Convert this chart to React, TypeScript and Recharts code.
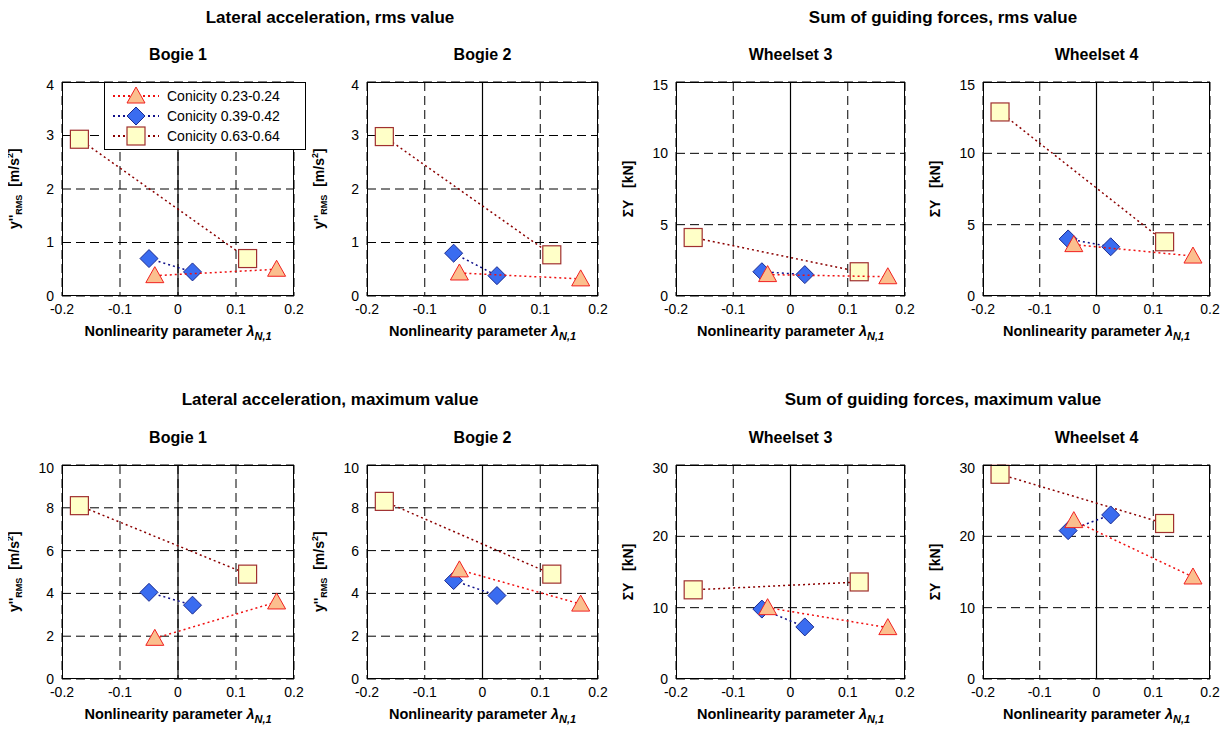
import React from 'react';
import { ScatterChart, Scatter, XAxis, YAxis, CartesianGrid, ReferenceLine } from 'recharts';

const X_TRI = [-0.04, 0.17];
const X_DIA = [-0.05, 0.025];
const X_SQ = [-0.17, 0.12];
const X_TICKS = [-0.2, -0.1, 0, 0.1, 0.2];

// values per panel: [triangle, diamond, square]
const ACC_RMS_B1 = [[0.38, 0.5], [0.7, 0.45], [2.93, 0.7]];
const ACC_RMS_B2 = [[0.43, 0.32], [0.8, 0.38], [2.98, 0.77]];
const FRC_RMS_W3 = [[1.5, 1.35], [1.7, 1.5], [4.1, 1.7]];
const FRC_RMS_W4 = [[3.6, 2.8], [4.0, 3.45], [12.9, 3.8]];
const ACC_MAX_B1 = [[1.9, 3.6], [4.05, 3.45], [8.1, 4.9]];
const ACC_MAX_B2 = [[5.1, 3.5], [4.6, 3.9], [8.3, 4.9]];
const FRC_MAX_W3 = [[10.0, 7.2], [9.8, 7.3], [12.5, 13.6]];
const FRC_MAX_W4 = [[22.2, 14.3], [20.8, 23.0], [28.7, 21.8]];

const FONT = 'Liberation Sans, Arial, sans-serif';

const Tri = (p: any) => <polygon points={`${p.cx},${p.cy - 9} ${p.cx + 9},${p.cy + 7} ${p.cx - 9},${p.cy + 7}`} fill="#fbbf8e" stroke="#f02020" strokeWidth={1} />;
const Dia = (p: any) => <polygon points={`${p.cx},${p.cy - 9} ${p.cx + 9},${p.cy} ${p.cx},${p.cy + 9} ${p.cx - 9},${p.cy}`} fill="#3a6cf0" stroke="#1a2a90" strokeWidth={1} />;
const Sq = (p: any) => <rect x={p.cx - 9} y={p.cy - 9} width={18} height={18} fill="#ffffc8" stroke="#a03030" strokeWidth={1.2} />;

const mk = (xs: number[], ys: number[]) => xs.map((x, i) => ({ x, y: ys[i] }));

const Panel = ({ l, t, w, h, title, vals, yMax, yTicks, ylabel, legend }: any) => (
  <>
    <div style={{ position: 'absolute', left: l, width: w, top: t - 36, textAlign: 'center', fontWeight: 'bold', fontSize: 16 }}>{title}</div>
    <div style={{ position: 'absolute', left: l - 58, top: t, width: 20, height: h, display: 'flex', alignItems: 'center', justifyContent: 'center' }}>
      <div style={{ transform: 'rotate(-90deg)', whiteSpace: 'nowrap', fontWeight: 'bold', fontSize: 14 }}>{ylabel}</div>
    </div>
    <div style={{ position: 'absolute', left: l - 50, top: t - 5 }}>
      <ScatterChart width={w + 60} height={h + 30} margin={{ top: 5, right: 10, left: 20, bottom: 0 }}>
        <CartesianGrid stroke="#000" strokeDasharray="9 5" />
        <XAxis type="number" dataKey="x" domain={[-0.2, 0.2]} ticks={X_TICKS} height={25} axisLine={false} tickLine={false}
          tick={{ fill: '#000', fontSize: 14 }} tickFormatter={(v: number) => String(v)} />
        <YAxis type="number" dataKey="y" domain={[0, yMax]} ticks={yTicks} width={30} axisLine={false} tickLine={false}
          tick={{ fill: '#000', fontSize: 14 }} />
        <ReferenceLine x={0} stroke="#000" strokeWidth={1.2} />
        <Scatter data={mk(X_SQ, vals[2])} shape={Sq} line={{ stroke: '#8b0000', strokeDasharray: '2 3', strokeWidth: 1.5 }} isAnimationActive={false} />
        <Scatter data={mk(X_DIA, vals[1])} shape={Dia} line={{ stroke: '#10108a', strokeDasharray: '2 3', strokeWidth: 1.5 }} isAnimationActive={false} />
        <Scatter data={mk(X_TRI, vals[0])} shape={Tri} line={{ stroke: '#f01010', strokeDasharray: '2 3', strokeWidth: 1.5 }} isAnimationActive={false} />
      </ScatterChart>
    </div>
    <div style={{ position: 'absolute', left: l, top: t, width: w, height: h, border: '1.5px solid #000', boxSizing: 'border-box', pointerEvents: 'none' }} />
    <div style={{ position: 'absolute', left: l - 20, width: w + 40, top: t + h + 27, textAlign: 'center', fontWeight: 'bold', fontSize: 14.5 }}>
      Nonlinearity parameter <i>λ<sub style={{ fontSize: 11 }}>N,1</sub></i>
    </div>
    {legend && (
      <div style={{ position: 'absolute', left: l + 42, top: t, width: 202, height: 68, background: '#fff', border: '1px solid #000', fontSize: 14, padding: '3px 6px', boxSizing: 'border-box' }}>
        {[['#f01010', Tri, '0.23-0.24'], ['#10108a', Dia, '0.39-0.42'], ['#8b0000', Sq, '0.63-0.64']].map(([c, S, t2]: any, i: number) => (
          <div key={i} style={{ display: 'flex', alignItems: 'center', height: 20 }}>
            <svg width={50} height={20}>
              <line x1={2} y1={10} x2={48} y2={10} stroke={c} strokeDasharray="2 3" strokeWidth={2} />
              {S({ cx: 25, cy: 10 })}
            </svg>
            <span style={{ marginLeft: 6 }}>Conicity {t2}</span>
          </div>
        ))}
      </div>
    )}
  </>
);

const accRms = <span>y''<sub style={{ fontSize: 9 }}>RMS</sub>&nbsp;&nbsp;[m/s<sup style={{ fontSize: 9 }}>2</sup>]</span>;
const frc = <span>ΣY&nbsp;&nbsp;&nbsp;[kN]</span>;

export default function App() {
  return (
    <div style={{ position: 'relative', width: 1232, height: 742, fontFamily: FONT, background: '#fff', margin: -8 }}>
      <div style={{ position: 'absolute', left: 62, width: 536, top: 8, textAlign: 'center', fontWeight: 'bold', fontSize: 17 }}>Lateral acceleration, rms value</div>
      <div style={{ position: 'absolute', left: 676, width: 534, top: 8, textAlign: 'center', fontWeight: 'bold', fontSize: 17 }}>Sum of guiding forces, rms value</div>
      <div style={{ position: 'absolute', left: 62, width: 536, top: 390, textAlign: 'center', fontWeight: 'bold', fontSize: 17 }}>Lateral acceleration, maximum value</div>
      <div style={{ position: 'absolute', left: 676, width: 534, top: 390, textAlign: 'center', fontWeight: 'bold', fontSize: 17 }}>Sum of guiding forces, maximum value</div>

      <Panel l={62} t={82} w={232} h={214} title="Bogie 1" vals={ACC_RMS_B1} yMax={4} yTicks={[0, 1, 2, 3, 4]} ylabel={accRms} legend />
      <Panel l={367} t={82} w={231} h={214} title="Bogie 2" vals={ACC_RMS_B2} yMax={4} yTicks={[0, 1, 2, 3, 4]} ylabel={accRms} />
      <Panel l={676} t={82} w={229} h={214} title="Wheelset 3" vals={FRC_RMS_W3} yMax={15} yTicks={[0, 5, 10, 15]} ylabel={frc} />
      <Panel l={983} t={82} w={227} h={214} title="Wheelset 4" vals={FRC_RMS_W4} yMax={15} yTicks={[0, 5, 10, 15]} ylabel={frc} />

      <Panel l={62} t={465} w={232} h={214} title="Bogie 1" vals={ACC_MAX_B1} yMax={10} yTicks={[0, 2, 4, 6, 8, 10]} ylabel={accRms} />
      <Panel l={367} t={465} w={231} h={214} title="Bogie 2" vals={ACC_MAX_B2} yMax={10} yTicks={[0, 2, 4, 6, 8, 10]} ylabel={accRms} />
      <Panel l={676} t={465} w={229} h={214} title="Wheelset 3" vals={FRC_MAX_W3} yMax={30} yTicks={[0, 10, 20, 30]} ylabel={frc} />
      <Panel l={983} t={465} w={227} h={214} title="Wheelset 4" vals={FRC_MAX_W4} yMax={30} yTicks={[0, 10, 20, 30]} ylabel={frc} />
    </div>
  );
}
